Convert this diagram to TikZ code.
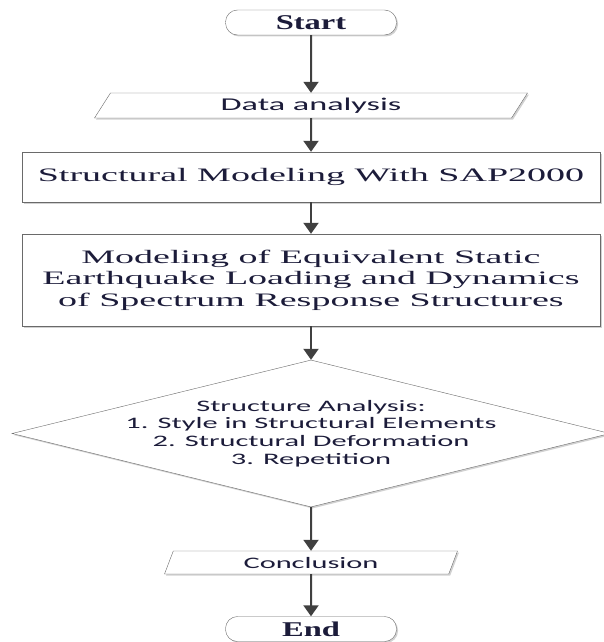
\documentclass[tikz,border=0pt]{standalone}
\usepackage{fontspec}
\setmainfont{Liberation Serif}
\newfontfamily\boxfont[FakeStretch=2.0]{Liberation Serif}
\newfontfamily\termfont[FakeStretch=1.55]{Liberation Serif}
\newfontfamily\calfont[FakeStretch=1.9]{Carlito}
\usepackage{xcolor}
\usepackage{tikz}
\usetikzlibrary{arrows.meta,shapes.geometric,shadows}
\definecolor{boxgray}{HTML}{6A6A6A}
\definecolor{arrgray}{HTML}{404040}
\definecolor{txtcol}{HTML}{1C1C3A}

\begin{document}
\begin{tikzpicture}[x=1pt, y=-1pt,
  shad/.style={drop shadow={shadow xshift=1.5pt, shadow yshift=-1.5pt, opacity=0.18, fill=black}},
  term/.style={draw=boxgray, fill=white, shad, rounded corners=12pt, minimum width=171pt, minimum height=25pt, inner sep=0pt, text=txtcol, font=\termfont\bfseries\fontsize{21}{23}\selectfont},
  io/.style={draw=boxgray, fill=white, shad, trapezium, trapezium stretches body, inner sep=0pt, text=txtcol, font=\calfont\fontsize{16}{18}\selectfont},
  proc/.style={draw=boxgray, fill=white, shad, minimum width=578pt, inner sep=0pt, align=center, text=txtcol, font=\boxfont\fontsize{19}{21.5}\selectfont},
  dec/.style={draw=boxgray, fill=white, shad, diamond, minimum width=598pt, minimum height=147pt, inner sep=0pt},
  dectxt/.style={align=center, text=txtcol, font=\calfont\fontsize{16}{17.7}\selectfont},
  arr/.style={-{Triangle[width=15pt,length=11pt]}, line width=2pt, draw=arrgray}
]
\useasboundingbox (0,0) rectangle (603,642);
% ---- terminals and steps
\node[term] (start) at (311,22.5) {Start};
\node[io, trapezium left angle=44, trapezium right angle=136, minimum width=433pt, minimum height=25pt, font=\calfont\fontsize{18}{20}\selectfont] (data) at (311,105.5) {Data analysis};
\node[proc, minimum height=50pt] (model) at (311,177) {Structural Modeling With SAP2000};
\node[proc, minimum height=92pt] (quake) at (311,280) {Modeling of Equivalent Static\\Earthquake Loading and Dynamics\\of Spectrum Response Structures};
\node[dec, label={[dectxt, yshift=0pt]center:Structure Analysis:\\1. Style in Structural Elements\\2. Structural Deformation\\3. Repetition}] (anal) at (311,433.5) {};
\node[io, trapezium left angle=52, trapezium right angle=128, minimum width=293pt, minimum height=23pt] (concl) at (311,562.5) {Conclusion};
\node[term] (end) at (311,629) {End};
% ---- arrows
\draw[arr] (start.south) -- (data.north);
\draw[arr] (data.south) -- (model.north);
\draw[arr] (model.south) -- (quake.north);
\draw[arr] (quake.south) -- (anal.north);
\draw[arr] (anal.south) -- (concl.north);
\draw[arr] (concl.south) -- (end.north);
\end{tikzpicture}
\end{document}
